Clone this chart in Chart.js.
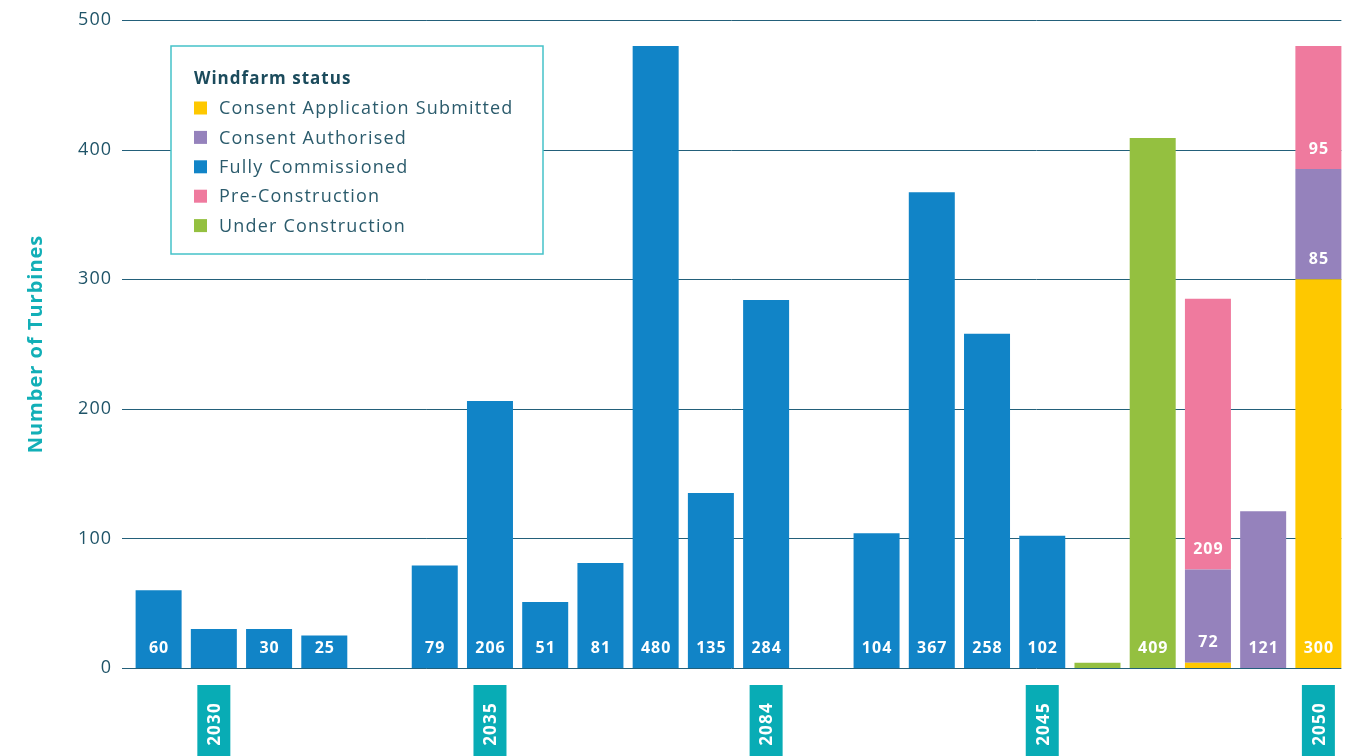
<!DOCTYPE html>
<html>
<head>
<meta charset="utf-8">
<script src="https://cdn.jsdelivr.net/npm/chart.js@4.4.0/dist/chart.umd.min.js"></script>
<style>
  html, body { margin: 0; padding: 0; background: #ffffff; overflow: hidden; }
  #wrap { width: 1358px; height: 756px; position: relative; }
</style>
</head>
<body>
<div id="wrap"><canvas id="chart" width="1358" height="756"></canvas></div>
<script>
// Year markers along the axis (one slot per windfarm, marker every fifth slot)
const categories = ['', '2030', '', '', '', '', '2035', '', '', '', '', '2084', '', '', '', '', '2045', '', '', '', '', '2050'];

// Turbine counts per windfarm, by status
const consentSubmitted   = [null, null, null, null, null, null, null, null, null, null, null, null, null, null, null, null, null, null, null, 4, null, 300];
const consentAuthorised  = [null, null, null, null, null, null, null, null, null, null, null, null, null, null, null, null, null, null, null, 72, 121, 85];
const fullyCommissioned  = [60, 30, 30, 25, null, 79, 206, 51, 81, 480, 135, 284, null, 104, 367, 258, 102, null, null, null, null, null];
const preConstruction    = [null, null, null, null, null, null, null, null, null, null, null, null, null, null, null, null, null, null, null, 209, null, 95];
const underConstruction  = [null, null, null, null, null, null, null, null, null, null, null, null, null, null, null, null, null, 4, 409, null, null, null];

// Y axis ticks
const yTicks = [0, 100, 200, 300, 400, 500];

// Slots whose bar carries no printed value
const unlabeledSlots = [1];

const FONT = "'Open Sans', 'DejaVu Sans', sans-serif";
const BAR_PCT = 0.833;

const COLORS = {
  submitted: '#fec800',
  authorised: '#9582bc',
  commissioned: '#1184c7',
  preConstruction: '#ef7a9e',
  underConstruction: '#94c040'
};

// Slightly open tracking for all text on the canvas
const trackingPlugin = {
  id: 'tracking',
  beforeDraw(chart) { chart.ctx.letterSpacing = '1px'; }
};

// Horizontal gridlines, drawn behind the bars
const gridPlugin = {
  id: 'customGrid',
  beforeDatasetsDraw(chart) {
    const { ctx, chartArea, scales } = chart;
    const y = scales.y;
    const slot = scales.x.width / categories.length;
    const x0 = chartArea.left - 9;
    const x1 = chartArea.right - slot * (1 - BAR_PCT) / 2;
    ctx.save();
    ctx.strokeStyle = '#23607a';
    ctx.lineWidth = 1;
    yTicks.forEach(v => {
      const py = Math.round(y.getPixelForValue(v)) + 0.5;
      ctx.beginPath();
      ctx.moveTo(x0, py);
      ctx.lineTo(x1, py);
      ctx.stroke();
    });
    ctx.restore();
  }
};

// Value printed near the base of each segment
const valueLabelPlugin = {
  id: 'valueLabels',
  afterDatasetsDraw(chart) {
    const { ctx } = chart;
    ctx.save();
    ctx.letterSpacing = '1px';
    ctx.fillStyle = '#ffffff';
    ctx.font = `bold 16px ${FONT}`;
    ctx.textAlign = 'center';
    ctx.textBaseline = 'middle';
    chart.data.datasets.forEach((ds, di) => {
      const meta = chart.getDatasetMeta(di);
      ds.data.forEach((v, i) => {
        if (v == null || v < 10 || unlabeledSlots.includes(i)) return;
        const el = meta.data[i];
        ctx.fillText(String(v), el.x + 0.5, el.base - 20);
      });
    });
    ctx.restore();
  }
};

// Year tags under the axis
const yearTagPlugin = {
  id: 'yearTags',
  afterDraw(chart) {
    const { ctx, scales } = chart;
    const x = scales.x;
    ctx.save();
    ctx.letterSpacing = '1.2px';
    categories.forEach((label, i) => {
      if (!label) return;
      const px = x.getPixelForValue(i);
      ctx.fillStyle = '#08acb5';
      ctx.fillRect(px - 16.5, 685, 33, 80);
      ctx.save();
      ctx.translate(px + 0.5, 724);
      ctx.rotate(-Math.PI / 2);
      ctx.fillStyle = '#ffffff';
      ctx.font = `bold 17px ${FONT}`;
      ctx.textAlign = 'center';
      ctx.textBaseline = 'middle';
      ctx.fillText(label, 0, 1);
      ctx.restore();
    });
    ctx.restore();
  }
};

// Boxed legend in the upper left of the plot
const legendBoxPlugin = {
  id: 'legendBox',
  afterDraw(chart) {
    const { ctx } = chart;
    const bx = 171, by = 46, bw = 372, bh = 208;
    ctx.save();
    ctx.fillStyle = '#ffffff';
    ctx.fillRect(bx, by, bw, bh);
    ctx.strokeStyle = '#45c2c9';
    ctx.lineWidth = 1.5;
    ctx.strokeRect(bx, by, bw, bh);

    ctx.textAlign = 'left';
    ctx.textBaseline = 'middle';
    ctx.fillStyle = '#1b4b5c';
    ctx.letterSpacing = '1px';
    ctx.font = `bold 17px ${FONT}`;
    ctx.fillText('Windfarm status', 194, 79);

    ctx.letterSpacing = '1.2px';
    ctx.font = `18px ${FONT}`;
    chart.data.datasets.forEach((ds, i) => {
      const cy = 108 + i * 29.4;
      ctx.fillStyle = ds.backgroundColor;
      ctx.fillRect(194, cy - 6.5, 13, 13);
      ctx.fillStyle = '#2b5b6c';
      ctx.fillText(ds.label, 219, cy + 1);
    });
    ctx.restore();
  }
};

const mk = (label, data, color) => ({
  label, data, backgroundColor: color, borderWidth: 0,
  barPercentage: BAR_PCT, categoryPercentage: 1
});

new Chart(document.getElementById('chart'), {
  type: 'bar',
  data: {
    labels: categories,
    datasets: [
      mk('Consent Application Submitted', consentSubmitted, COLORS.submitted),
      mk('Consent Authorised', consentAuthorised, COLORS.authorised),
      mk('Fully Commissioned', fullyCommissioned, COLORS.commissioned),
      mk('Pre-Construction', preConstruction, COLORS.preConstruction),
      mk('Under Construction', underConstruction, COLORS.underConstruction)
    ]
  },
  options: {
    responsive: false,
    animation: false,
    devicePixelRatio: 1,
    layout: { padding: { top: 20, right: 12, left: 0, bottom: 0 } },
    plugins: {
      legend: { display: false },
      tooltip: { enabled: false },
      title: { display: false }
    },
    scales: {
      x: {
        stacked: true,
        offset: true,
        grid: { display: false, drawTicks: false },
        border: { display: false },
        ticks: { display: false },
        afterFit(scale) { scale.height = 88; }
      },
      y: {
        stacked: true,
        min: 0,
        max: 500,
        afterBuildTicks(scale) { scale.ticks = yTicks.map(v => ({ value: v })); },
        ticks: {
          padding: 19,
          color: '#1f5468',
          font: { family: FONT, size: 18 }
        },
        grid: { display: false, drawTicks: false },
        border: { display: false },
        title: {
          display: true,
          text: 'Number of Turbines',
          color: '#12afb7',
          font: { family: FONT, size: 20, weight: 'bold' },
          padding: { top: 24, bottom: 0 }
        },
        afterFit(scale) {
          scale.width = 131;
          scale.paddingTop = 0;
          scale.paddingBottom = 0;
        }
      }
    }
  },
  plugins: [trackingPlugin, gridPlugin, valueLabelPlugin, yearTagPlugin, legendBoxPlugin]
});
</script>
</body>
</html>
